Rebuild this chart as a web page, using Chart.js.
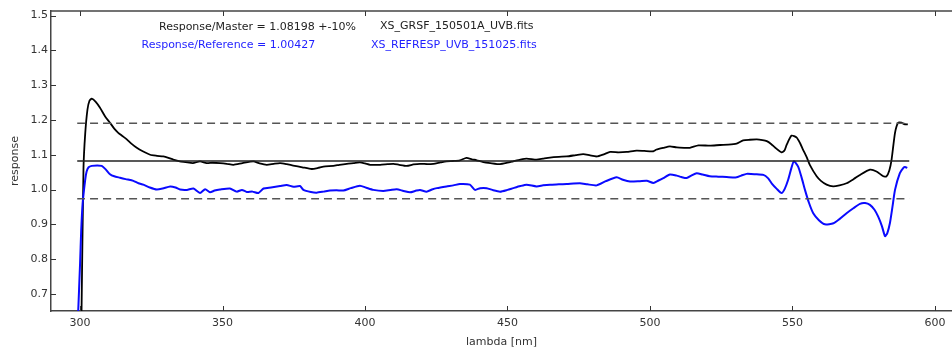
<!DOCTYPE html>
<html>
<head>
<meta charset="utf-8">
<script src="https://cdn.jsdelivr.net/npm/chart.js@4/dist/chart.umd.min.js"></script>
<style>
  html, body { margin: 0; padding: 0; background: #fff; }
  #chart { display: block; }
</style>
</head>
<body>
<canvas id="chart" width="952" height="348"></canvas>
<script>
// response / master
const masterLambda = [300.5, 301.2, 301.8, 302.6, 303.3, 304.1, 305.5, 307, 308.8, 310.5, 312, 313.4, 315, 316.4, 318, 319.9, 322, 324.6, 327, 329.2, 331, 332.7, 335, 337, 339.6, 342.1, 344.4, 346.5, 349.1, 351.5, 353.8, 357, 360.8, 363, 365.5, 368, 370.2, 372.5, 374.8, 378, 381.3, 383.5, 385.4, 388.9, 391, 393.6, 396, 398.2, 400, 401.8, 405.3, 408, 410, 412, 414.6, 417, 419.3, 422, 424, 426.5, 428.6, 431, 433.3, 435.6, 437.5, 439.2, 441.5, 444, 447.4, 450, 452, 454.5, 456.7, 460.2, 462.5, 464.9, 468, 470.8, 474, 476.6, 479, 481.3, 484, 486, 489, 491.8, 495.3, 498, 501.2, 502.3, 504.7, 507, 509.4, 512, 514, 517, 521, 524.6, 527.5, 530.4, 532.7, 535, 537.5, 539.5, 541, 542.5, 544, 546.2, 547.2, 548, 549.7, 551.5, 552.7, 553.7, 555, 556.1, 558.5, 560, 562, 564.3, 566.5, 569, 571.5, 573.7, 577.2, 579.5, 581.9, 583, 584, 584.8, 586, 587.1, 588.3, 589.2, 590.5];
const masterResp = [0.64, 1.06, 1.16, 1.23, 1.255, 1.261, 1.252, 1.235, 1.21, 1.192, 1.175, 1.163, 1.153, 1.144, 1.132, 1.12, 1.11, 1.1, 1.097, 1.095, 1.091, 1.086, 1.081, 1.079, 1.076, 1.081, 1.076, 1.077, 1.076, 1.074, 1.071, 1.076, 1.081, 1.075, 1.071, 1.074, 1.076, 1.073, 1.069, 1.064, 1.059, 1.062, 1.066, 1.068, 1.071, 1.074, 1.076, 1.078, 1.075, 1.071, 1.071, 1.073, 1.074, 1.071, 1.068, 1.072, 1.074, 1.073, 1.074, 1.078, 1.081, 1.082, 1.084, 1.091, 1.087, 1.084, 1.079, 1.076, 1.073, 1.077, 1.081, 1.086, 1.089, 1.086, 1.089, 1.092, 1.094, 1.095, 1.099, 1.102, 1.098, 1.095, 1.102, 1.108, 1.107, 1.108, 1.112, 1.111, 1.11, 1.115, 1.12, 1.124, 1.121, 1.12, 1.12, 1.127, 1.126, 1.128, 1.129, 1.132, 1.141, 1.143, 1.144, 1.142, 1.139, 1.131, 1.12, 1.107, 1.112, 1.129, 1.155, 1.149, 1.133, 1.115, 1.093, 1.071, 1.038, 1.025, 1.014, 1.009, 1.012, 1.018, 1.03, 1.042, 1.057, 1.052, 1.038, 1.038, 1.055, 1.086, 1.163, 1.192, 1.192, 1.188, 1.187];

// response / reference
const refLambda = [299.3, 300, 300.4, 300.9, 301.8, 302.3, 303, 304.1, 306, 307.6, 309, 310.5, 312, 314, 316, 318.7, 320.5, 322.2, 324.5, 326.9, 329, 331.6, 333.5, 335.1, 337.5, 339.8, 342.1, 343.9, 345.6, 347.2, 349.1, 352.6, 355, 356.8, 358.5, 360.5, 362.6, 364.4, 367, 370.2, 372.5, 374.9, 377.2, 378.4, 381, 383, 385.5, 387.7, 390, 392.4, 395, 398.2, 400.5, 402.9, 406.4, 409, 411.1, 413.5, 415.8, 418, 419.3, 421.6, 423.5, 425.2, 428.6, 431, 433.3, 436.8, 438.6, 440.4, 442.7, 445, 447.4, 450, 452, 454.5, 456.7, 460.2, 462.5, 464.9, 468, 470.8, 475.4, 478, 481.3, 484.5, 488.3, 490.5, 493, 496.5, 498.9, 501.2, 503, 504.7, 507, 509.4, 511, 512.9, 514.5, 516.4, 518.5, 521, 524, 526.9, 530.4, 532, 533.9, 537, 539.8, 541.5, 542.7, 544.5, 546.2, 547.3, 548.5, 549.5, 550.5, 552, 553.2, 554.4, 555.8, 557.3, 559.3, 561.4, 564.4, 566.5, 569, 571.5, 573.7, 575.5, 577.2, 578.8, 580.1, 581.4, 582.5, 583.3, 584.2, 585.1, 586, 587.7, 589, 589.5, 590.3];
const refResp = [0.64, 0.787, 0.883, 0.96, 1.028, 1.052, 1.064, 1.068, 1.069, 1.068, 1.058, 1.044, 1.038, 1.034, 1.03, 1.025, 1.018, 1.014, 1.006, 1.0, 1.003, 1.009, 1.006, 1.0, 0.999, 1.003, 0.99, 1.001, 0.992, 0.997, 1.0, 1.003, 0.994, 0.999, 0.993, 0.994, 0.99, 1.003, 1.006, 1.01, 1.013, 1.008, 1.01, 0.999, 0.993, 0.991, 0.994, 0.997, 0.998, 0.997, 1.004, 1.011, 1.005, 0.999, 0.996, 0.999, 1.001, 0.996, 0.992, 0.997, 0.999, 0.994, 1.0, 1.004, 1.009, 1.012, 1.016, 1.014, 0.999, 1.004, 1.004, 0.998, 0.994, 0.999, 1.004, 1.01, 1.014, 1.009, 1.012, 1.014, 1.015, 1.016, 1.018, 1.015, 1.012, 1.024, 1.035, 1.028, 1.023, 1.024, 1.025, 1.019, 1.026, 1.033, 1.043, 1.04, 1.036, 1.033, 1.04, 1.047, 1.043, 1.038, 1.037, 1.036, 1.035, 1.04, 1.045, 1.044, 1.042, 1.032, 1.018, 1.002, 0.99, 1.002, 1.028, 1.058, 1.081, 1.066, 1.035, 0.999, 0.962, 0.932, 0.912, 0.9, 0.903, 0.915, 0.932, 0.947, 0.959, 0.961, 0.956, 0.942, 0.922, 0.895, 0.866, 0.875, 0.903, 0.95, 0.999, 1.047, 1.063, 1.065, 1.062];

const masterLevel = 1.08198;
const refLevel = 1.00427;
const tolerance = 0.10;
const levelRange = [299, 591];

const xTicks = [300, 350, 400, 450, 500, 550, 600];
const yTicks = [0.7, 0.8, 0.9, 1.0, 1.1, 1.2, 1.3, 1.4, 1.5];

const masterLabel = `Response/Master = ${masterLevel} +-${tolerance * 100}%`;
const refLabel = `Response/Reference = ${refLevel}`;
const masterFile = 'XS_GRSF_150501A_UVB.fits';
const refFile = 'XS_REFRESP_UVB_151025.fits';

const FONT = 'DejaVu Sans';
const pts = (xs, ys) => xs.map((x, i) => ({x, y: ys[i]}));
const hline = v => levelRange.map(x => ({x, y: v}));

// matplotlib style: ticks pointing inward, top frame, text labels
const frameAndText = {
  id: 'frameAndText',
  afterDatasetsDraw(chart) {
    const {ctx, chartArea: a, scales: {x, y}} = chart;
    ctx.save();
    ctx.strokeStyle = '#333';
    ctx.lineWidth = 1;
    ctx.beginPath();
    xTicks.forEach(v => {
      const px = Math.round(x.getPixelForValue(v)) + 0.5;
      ctx.moveTo(px, a.bottom); ctx.lineTo(px, a.bottom - 5);
      ctx.moveTo(px, a.top); ctx.lineTo(px, a.top + 5);
    });
    yTicks.forEach(v => {
      const py = Math.round(y.getPixelForValue(v)) + 0.5;
      ctx.moveTo(a.left, py); ctx.lineTo(a.left + 5, py);
    });
    ctx.stroke();
    ctx.lineWidth = 1.5;
    ctx.strokeStyle = '#444';
    ctx.beginPath();
    ctx.moveTo(a.left, a.top); ctx.lineTo(a.right, a.top);
    ctx.stroke();

    ctx.font = `11px "${FONT}"`;
    ctx.textBaseline = 'middle';
    ctx.textAlign = 'left';
    ctx.fillStyle = '#222';
    ctx.fillText(masterLabel, 159, 27);
    ctx.fillText(masterFile, 380, 26);
    ctx.fillStyle = '#1f1fff';
    ctx.fillText(refLabel, 141.5, 45.5);
    ctx.fillText(refFile, 371, 45.5);
    ctx.restore();
  }
};

new Chart(document.getElementById('chart'), {
  type: 'line',
  data: {
    datasets: [
      { data: hline(masterLevel * (1 + tolerance)), borderColor: '#555', borderWidth: 1.5, borderDash: [8, 5] },
      { data: hline(masterLevel * (1 - tolerance)), borderColor: '#555', borderWidth: 1.5, borderDash: [8, 5] },
      { data: hline(masterLevel), borderColor: '#222', borderWidth: 1.5 },
      { data: pts(refLambda, refResp), borderColor: '#0a0aff', borderWidth: 2 },
      { data: pts(masterLambda, masterResp), borderColor: '#000', borderWidth: 1.8 }
    ]
  },
  options: {
    responsive: false,
    animation: false,
    devicePixelRatio: 1,
    layout: { padding: { top: 11, right: 0, left: 0, bottom: 0 } },
    elements: { point: { radius: 0 }, line: { tension: 0.2, fill: false } },
    plugins: { legend: { display: false }, tooltip: { enabled: false } },
    scales: {
      x: {
        type: 'linear', min: 289.8, max: 606,
        afterFit: s => { s.height = 37; },
        afterBuildTicks: s => { s.ticks = xTicks.map(v => ({value: v})); },
        grid: { display: false, drawTicks: false },
        border: { display: true, color: '#444', width: 1.5 },
        ticks: { padding: 6, color: '#333', font: { family: FONT, size: 11 } },
        title: { display: true, text: 'lambda [nm]', color: '#333', padding: { top: 0, bottom: 0 }, font: { family: FONT, size: 11, lineHeight: 1 } }
      },
      y: {
        min: 0.651, max: 1.513,
        afterFit: s => { s.width = 51; },
        afterBuildTicks: s => { s.ticks = yTicks.map(v => ({value: v})); },
        grid: { display: false, drawTicks: false },
        border: { display: true, color: '#444', width: 1.5 },
        ticks: { padding: 3, color: '#333', font: { family: FONT, size: 11 }, callback: v => v.toFixed(1) },
        title: { display: true, text: 'response', color: '#333', padding: { top: 10, bottom: 0 }, font: { family: FONT, size: 11, lineHeight: 1 } }
      }
    }
  },
  plugins: [frameAndText]
});
</script>
</body>
</html>
